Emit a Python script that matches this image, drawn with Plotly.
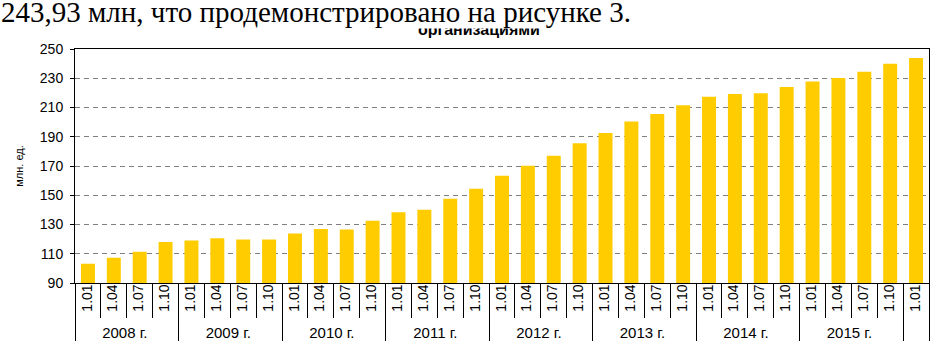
import plotly.graph_objects as go

years = ["2008 г."] * 4 + ["2009 г."] * 4 + ["2010 г."] * 4 + ["2011 г."] * 4 + \
        ["2012 г."] * 4 + ["2013 г."] * 4 + ["2014 г."] * 4 + ["2015 г."] * 4 + [" "]
quarters = ["1.01", "1.04", "1.07", "1.10"] * 8 + ["1.01"]
values = [103.1, 107.2, 111.3, 118.1, 119.0, 120.6, 119.7, 119.7,
          123.8, 127.0, 126.5, 132.6, 138.3, 140.1, 147.6, 154.5,
          163.3, 170.1, 177.0, 185.6, 192.5, 200.4, 205.6, 211.5,
          217.4, 219.3, 219.7, 224.0, 227.7, 230.2, 234.5, 240.0, 243.93]
y_ticks = [90, 110, 130, 150, 170, 190, 210, 230, 250]

caption = "243,93 млн, что продемонстрировано на рисунке 3."
chart_title = "организациями"
y_title = "млн. ед."

# larger label text than the axis base font (keeps the two label rows close together)
outer = ['<span style="font-size:15px">%s</span>' % t for t in years]
inner = ['<span style="font-size:14px">%s</span>' % t for t in quarters]

fig = go.Figure(go.Bar(
    x=[outer, inner], y=values,
    marker=dict(color="#FFCC00", line=dict(width=0)),
    hoverinfo="y",
))

H = 357 - 49 - 74  # plot height in px
W = 951 - 75 - 22  # plot width in px

fig.update_layout(
    width=951, height=357,
    margin=dict(l=75, r=22, t=49, b=74),
    paper_bgcolor="white", plot_bgcolor="white",
    bargap=0.46,
    showlegend=False,
    font=dict(family="Liberation Sans, Arial", color="black", size=12),
    xaxis=dict(
        type="multicategory",
        showline=True, linecolor="black", linewidth=1, mirror=True,
        ticks="outside", ticklen=34, tickcolor="black", tickwidth=1,
        tickangle=-90, ticklabelstandoff=-4,
        tickfont=dict(size=11, family="Liberation Sans, Arial"),
        showdividers=True, dividercolor="black", dividerwidth=1,
        showgrid=False,
    ),
    yaxis=dict(
        range=[90, 250], tickvals=y_ticks,
        showline=True, linecolor="black", linewidth=1, mirror=True,
        ticks="outside", ticklen=4, tickcolor="black",
        ticklabelstandoff=4,
        tickfont=dict(size=14, family="Liberation Sans, Arial"),
        showgrid=True, gridcolor="#7f7f7f", gridwidth=1, griddash="5px,4px",
        zeroline=False,
        title=dict(text=y_title, font=dict(size=11), standoff=13),
    ),
    annotations=[
        dict(text="<b>" + chart_title + "</b>", xref="paper", yref="paper",
             x=(479 - 75) / W, y=1 + (49 - 29) / H, xanchor="center", yanchor="middle",
             showarrow=False, font=dict(size=16, family="Liberation Sans, Arial", color="black")),
        dict(text=caption, xref="paper", yref="paper",
             x=-75 / W, y=1 + (49 + 5) / H, xanchor="left", yanchor="top",
             showarrow=False, bgcolor="white", borderpad=0,
             font=dict(size=29, family="Liberation Serif, Times New Roman", color="black")),
    ],
)

fig.write_html("out.html", config={"displayModeBar": False},
               post_script="document.body.style.margin='0';")
